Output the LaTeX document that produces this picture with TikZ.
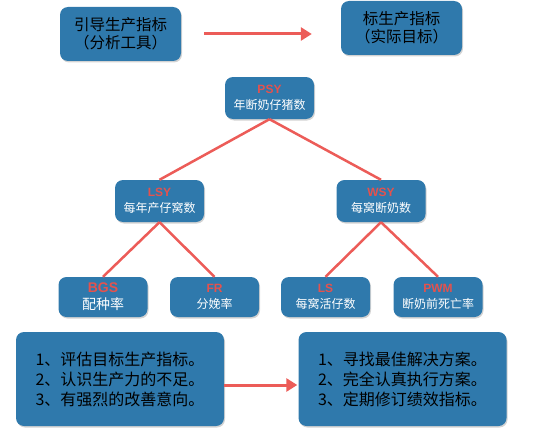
\documentclass[tikz,border=0pt]{standalone}
\usepackage{fontspec}
\setmainfont{Noto Sans CJK SC}
\newfontfamily\lblfont{Liberation Sans}
\usetikzlibrary{positioning,arrows.meta,shadows}
\definecolor{boxblue}{RGB}{47,121,172}
\definecolor{lblred}{RGB}{228,82,78}
\definecolor{linkred}{RGB}{236,92,88}

\begin{document}
\begin{tikzpicture}[
    x=1pt, y=-1pt,
    box/.style={fill=boxblue, rounded corners=8pt, align=center, inner sep=0pt,
                drop shadow={opacity=0.35, shadow xshift=1pt, shadow yshift=-1.5pt}},
    headbox/.style={box, font=\fontsize{15.5}{18}\selectfont, minimum width=121pt, minimum height=54pt},
    notebox/.style={box, align=left, font=\fontsize{16}{20}\selectfont, minimum width=208pt, minimum height=94pt},
    metric/.style={box, text=white, font=\fontsize{12}{16}\selectfont, minimum width=89pt, minimum height=42pt},
    link/.style={draw=linkred, line width=2.5pt},
    flow/.style={draw=linkred, line width=3pt, -{Triangle[width=13pt,length=11pt,fill=linkred]}}
]
\useasboundingbox (0,0) rectangle (554,428);

\node[headbox] (guide) at (120.5,34) {引导生产指标\\（分析工具）};
\node[headbox] (target) at (401.5,28) {标生产指标\\（实际目标）};

\node[metric] (psy) at (269.5,98) {{\lblfont\bfseries\color{lblred}PSY}\\年断奶仔猪数};
\node[metric] (lsy) at (159.5,201) {{\lblfont\bfseries\color{lblred}LSY}\\每年产仔窝数};
\node[metric] (wsy) at (381,201) {{\lblfont\bfseries\color{lblred}WSY}\\每窝断奶数};

\node[metric, minimum height=40pt, font=\fontsize{14}{17}\selectfont] (bgs) at (103,297) {{\lblfont\bfseries\color{lblred}BGS}\\配种率};
\node[metric, minimum height=40pt] (fr) at (214.5,297) {{\lblfont\bfseries\color{lblred}FR}\\分娩率};
\node[metric, minimum height=40pt] (ls) at (325.5,297) {{\lblfont\bfseries\color{lblred}LS}\\每窝活仔数};
\node[metric, minimum height=40pt] (pwm) at (438,297) {{\lblfont\bfseries\color{lblred}PWM}\\断奶前死亡率};

\node[notebox] (assess) at (120,379) {1、评估目标生产指标。\\2、认识生产力的不足。\\3、有强烈的改善意向。};
\node[notebox] (act) at (402.5,379) {1、寻找最佳解决方案。\\2、完全认真执行方案。\\3、定期修订绩效指标。};

\draw[link] (psy.south) -- (lsy.north);
\draw[link] (psy.south) -- (wsy.north);
\draw[link] (lsy.south) -- (bgs.north);
\draw[link] (lsy.south) -- (fr.north);
\draw[link] (wsy.south) -- (ls.north);
\draw[link] (wsy.south) -- (pwm.north);

\draw[flow, shorten <=23pt, shorten >=29pt] (guide.east) -- (guide.east -| target.west);
\draw[flow, shorten >=1pt] ([yshift=-6pt]assess.east) -- ([yshift=-6pt]act.west);

\end{tikzpicture}
\end{document}
